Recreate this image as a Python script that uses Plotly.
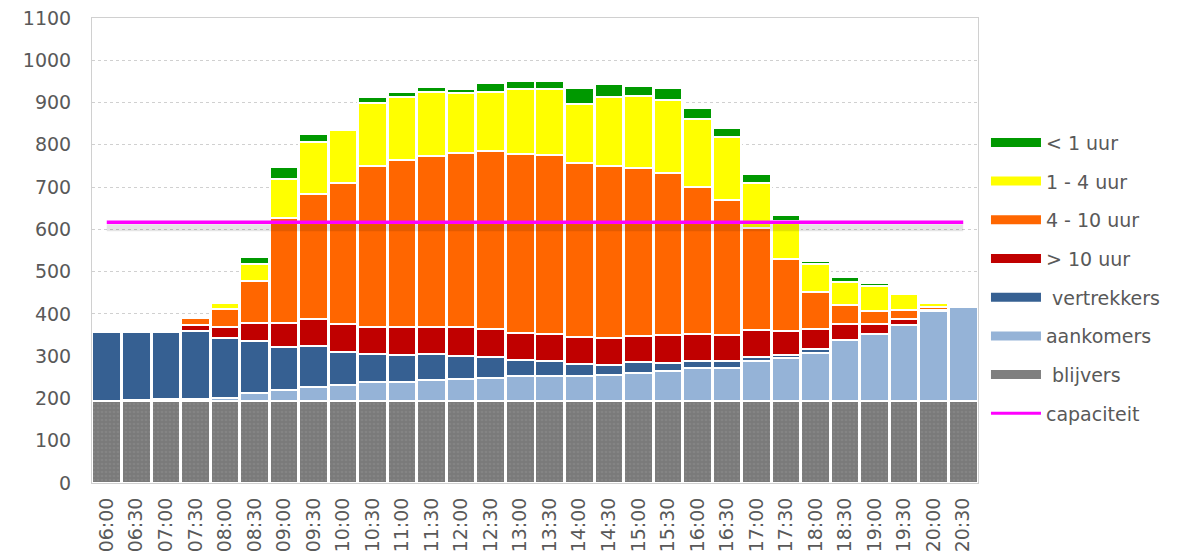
import plotly.graph_objects as go

times = ["06:00", "06:30", "07:00", "07:30", "08:00", "08:30", "09:00", "09:30",
         "10:00", "10:30", "11:00", "11:30", "12:00", "12:30", "13:00", "13:30",
         "14:00", "14:30", "15:00", "15:30", "16:00", "16:30", "17:00", "17:30",
         "18:00", "18:30", "19:00", "19:30", "20:00", "20:30"]

blijvers = [194] * 30
aankomers = [0, 2, 4, 5, 8, 18, 26, 34, 39, 45, 45, 49, 52, 55, 58, 58,
             60, 61, 67, 70, 77, 78, 94, 101, 113, 145, 159, 180, 212, 222]
vertrekkers = [164, 162, 160, 161, 142, 124, 101, 95, 77, 66, 63, 63, 54, 49, 39, 36,
               28, 23, 25, 21, 17, 16, 9, 7, 9, 0, 0, 0, 0, 0]
meer_10 = [0, 0, 0, 13, 25, 43, 58, 64, 66, 65, 67, 64, 68, 66, 65, 65,
           63, 66, 62, 66, 64, 63, 64, 57, 49, 37, 24, 13, 3, 0]
uur_4_10 = [0, 0, 0, 17, 42, 100, 248, 297, 333, 381, 395, 404, 412, 421, 422, 423,
            413, 407, 398, 383, 349, 319, 242, 170, 87, 46, 29, 22, 8, 0]
uur_1_4 = [0, 0, 0, 0, 14, 38, 92, 123, 126, 149, 149, 150, 143, 140, 153, 155,
           139, 162, 170, 171, 161, 149, 106, 90, 67, 54, 59, 37, 10, 0]
minder_1 = [0, 0, 0, 0, 0, 17, 29, 18, 0, 13, 12, 12, 8, 21, 21, 19,
            37, 30, 24, 29, 24, 21, 21, 14, 6, 12, 9, 6, 0, 0]
capaciteit = [617] * 30

series = [
    ("blijvers", blijvers, "#7f7f7f"),
    ("aankomers", aankomers, "#95B3D7"),
    ("vertrekkers", vertrekkers, "#366092"),
    ("> 10 uur", meer_10, "#C00000"),
    ("4 - 10 uur", uur_4_10, "#FF6600"),
    ("1 - 4 uur", uur_1_4, "#FFFF00"),
    ("< 1 uur", minder_1, "#009900"),
]

legend_names = ["< 1 uur", "1 - 4 uur", "4 - 10 uur", "> 10 uur",
                " vertrekkers", "aankomers", " blijvers"]
legend_colors = ["#009900", "#FFFF00", "#FF6600", "#C00000", "#366092", "#95B3D7", "#7f7f7f"]

fig = go.Figure()

for name, vals, col in series:
    marker = dict(color=col, line=dict(color="white", width=2))
    if name == "blijvers":
        marker["pattern"] = dict(shape=".", fgcolor="#8e8e8e", bgcolor="#7a7a7a",
                                 size=4, solidity=0.35)
    fig.add_trace(go.Bar(x=times, y=vals, name=name, marker=marker,
                         showlegend=False, hoverinfo="skip"))

# soft shadow of the capacity line
fig.add_trace(go.Scatter(x=times, y=[c - 13 for c in capaciteit], mode="lines",
                         line=dict(color="rgba(0,0,0,0.10)", width=7),
                         showlegend=False, hoverinfo="skip"))
fig.add_trace(go.Scatter(x=times, y=capaciteit, mode="lines",
                         line=dict(color="#FF00FF", width=3.5),
                         showlegend=False, hoverinfo="skip"))

for i, (nm, col) in enumerate(zip(legend_names, legend_colors)):
    fig.add_trace(go.Scatter(x=[None], y=[None], mode="lines", name=nm,
                             line=dict(color=col, width=9), legendgroup=f"g{i}",
                             legendrank=i + 1))
fig.add_trace(go.Scatter(x=[None], y=[None], mode="lines", name="capaciteit",
                         line=dict(color="#FF00FF", width=3), legendgroup="g8",
                         legendrank=9))

font = dict(family="DejaVu Sans", size=19, color="#595959")

fig.update_layout(
    barmode="stack",
    bargap=0.03,
    width=1187, height=557,
    margin=dict(l=84, r=217, t=10, b=82),
    paper_bgcolor="white",
    plot_bgcolor="white",
    font=font,
    legend=dict(x=1.009, xanchor="left", y=0.773, yanchor="top",
                font=font, tracegroupgap=11, itemwidth=50,
                bgcolor="rgba(0,0,0,0)"),
    xaxis=dict(type="category", tickangle=-90, tickfont=font,
               showline=True, linecolor="#d0d0d0", linewidth=1, mirror=True,
               ticks="", showgrid=False, ticklabelstandoff=6, automargin=False),
    yaxis=dict(range=[0, 1100], dtick=100, tickfont=font,
               showline=True, linecolor="#d0d0d0", linewidth=1, mirror=True,
               showgrid=True, gridcolor="#d0d0d0", griddash="dot", gridwidth=1,
               ticks="", zeroline=False, ticklabelstandoff=16, automargin=False,
               ticklabeloverflow="allow"),
)

fig.write_html("out.html")
